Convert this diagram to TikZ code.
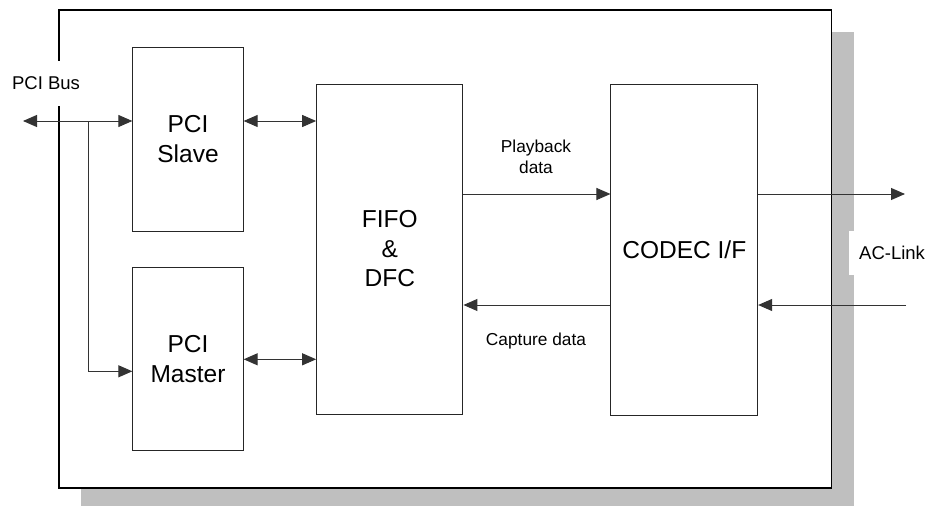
\documentclass[tikz,border=0pt]{standalone}
\usepackage{fontspec}
\setmainfont{Liberation Sans}
\usetikzlibrary{arrows.meta}
\begin{document}
\begin{tikzpicture}[x=1pt,y=-1pt,
  blk/.style={draw=black!85,line width=1pt,fill=white,align=center,inner sep=0pt,
    font=\fontsize{24.5}{29.5}\selectfont},
  lbl/.style={align=center,inner sep=0pt,font=\fontsize{17.3}{21}\selectfont},
  ext/.style={fill=white,inner sep=0pt,font=\fontsize{18.5}{22}\selectfont},
  conn/.style={draw=black!80,line width=1pt},
  tip/.style={-{Triangle[length=14pt,width=12pt]}},
  dtip/.style={{Triangle[length=14pt,width=12pt]}-{Triangle[length=14pt,width=12pt]}}]
\useasboundingbox (0,0) rectangle (930,506);
% shadow and outer frame
\fill[black!25] (81,32) rectangle (854,510);
\node[draw=black,line width=1.3pt,fill=white,minimum width=772.7,minimum height=478,inner sep=0pt] (outer) at (445.3,249) {};
% labels that sit over the frame
\node[ext,minimum width=70,minimum height=45] (pcibus) at (46,83.5) {PCI Bus};
\node[ext,anchor=west,minimum height=44,inner xsep=10pt] (aclink) at (849,253) {AC-Link};
% blocks
\node[blk,minimum width=110.3,minimum height=184] (slave) at (188,139) {PCI\\Slave};
\node[blk,minimum width=110.3,minimum height=183.3] (master) at (188,359.3) {PCI\\Master};
\node[blk,minimum width=146.3,minimum height=330] (fifo) at (389.8,249) {FIFO\\\&\\DFC};
\node[blk,minimum width=146.7,minimum height=331] (codec) at (684.3,249.5) {CODEC I/F};
% connectors
\coordinate (busL) at (23,121);
\coordinate (br) at (88,121);
\coordinate (outR) at (905,194);
\coordinate (inR) at (906,305);
\draw[conn,dtip] (busL) -- (busL -| slave.west);
\draw[conn,tip] (br) |- ([yshift=-12pt]master.west);
\draw[conn,dtip] ([yshift=18pt]slave.east) -- ([yshift=18pt]slave.east -| fifo.west);
\draw[conn,dtip] (master.east) -- (master.east -| fifo.west);
\draw[conn,tip] ([yshift=55pt]fifo.east) -- ([yshift=55pt]fifo.east -| codec.west);
\draw[conn,tip] ([yshift=-56pt]fifo.east -| codec.west) -- ([yshift=-56pt]fifo.east);
\draw[conn,tip] (codec.east |- outR) -- (outR);
\draw[conn,tip] (inR) -- (inR -| codec.east);
% connector labels
\node[lbl] (pb) at (536,157) {Playback\\data};
\node[lbl] (cap) at (536,341) {Capture data};
\end{tikzpicture}
\end{document}
